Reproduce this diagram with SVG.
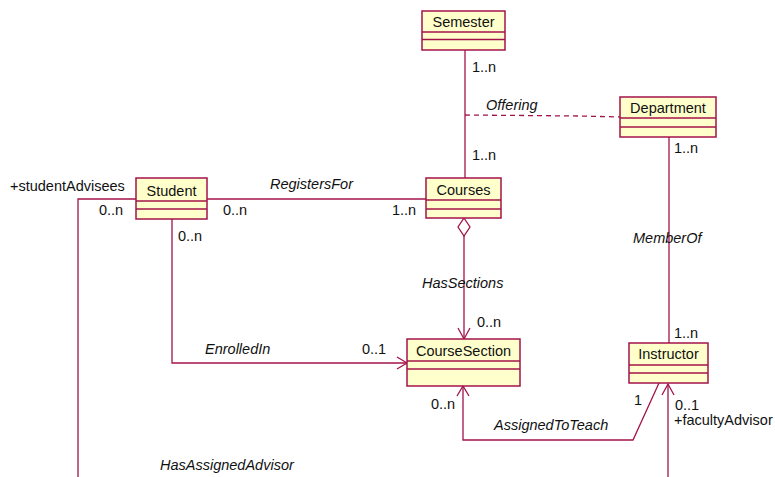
<svg xmlns="http://www.w3.org/2000/svg" width="775" height="477" viewBox="0 0 775 477">
  <style>
    .box { fill: #ffffcc; stroke: #a3134b; stroke-width: 1.5; }
    .div { stroke: #a3134b; stroke-width: 1.5; }
    .ln { fill: none; stroke: #a3134b; stroke-width: 1.3; }
    .dash { fill: none; stroke: #a3134b; stroke-width: 1.3; stroke-dasharray: 5 4; }
    .name { font-family: "Liberation Sans", Arial, sans-serif; font-size: 14.5px; fill: #111; text-anchor: middle; }
    .lbl { font-family: "Liberation Sans", Arial, sans-serif; font-size: 14.5px; fill: #111; }
    .it { font-style: italic; }
  </style>
  <rect width="775" height="477" fill="#ffffff"/>

  <!-- associations -->
  <g id="connectors">
    <!-- Semester - Courses -->
    <line class="ln" x1="465" y1="50" x2="465" y2="178"/>
    <!-- Offering association class link -->
    <polyline class="dash" points="465,115 580,116 620,117"/>
    <!-- Department - Instructor -->
    <line class="ln" x1="669" y1="137" x2="669" y2="343"/>
    <!-- Student - Courses -->
    <line class="ln" x1="207" y1="199" x2="426" y2="199"/>
    <!-- Courses aggregation of CourseSection -->
    <polygon points="464,218 470,227 464,236 458,227" fill="#ffffff" stroke="#a3134b" stroke-width="1.3"/>
    <line class="ln" x1="464" y1="236" x2="464" y2="339"/>
    <polyline class="ln" points="458,328 464,339 470,328"/>
    <!-- Student enrolled in CourseSection -->
    <polyline class="ln" points="172,219 172,363 407,363"/>
    <polyline class="ln" points="397,357 407,363 397,369"/>
    <!-- Instructor assigned to CourseSection -->
    <polyline class="ln" points="659,383 633,440 463,440 463,386"/>
    <polyline class="ln" points="457,396 463,386 469,396"/>
    <!-- Student advisees / faculty advisor -->
    <polyline class="ln" points="136,199 78,199 78,477"/>
    <line class="ln" x1="668" y1="384" x2="668" y2="477"/>
    <polyline class="ln" points="662,395 668,384 674,395"/>
  </g>

  <!-- classes -->
  <g id="semester">
    <rect class="box" x="422" y="11" width="83" height="39"/>
    <line class="div" x1="422" y1="32" x2="505" y2="32"/>
    <line class="div" x1="422" y1="39.5" x2="505" y2="39.5"/>
    <text class="name" x="463.5" y="27">Semester</text>
  </g>
  <g id="department">
    <rect class="box" x="620" y="97" width="96" height="40"/>
    <line class="div" x1="620" y1="118" x2="716" y2="118"/>
    <line class="div" x1="620" y1="127" x2="716" y2="127"/>
    <text class="name" x="668" y="113">Department</text>
  </g>
  <g id="student">
    <rect class="box" x="136" y="178" width="71" height="41"/>
    <line class="div" x1="136" y1="201" x2="207" y2="201"/>
    <line class="div" x1="136" y1="209" x2="207" y2="209"/>
    <text class="name" x="171.5" y="196">Student</text>
  </g>
  <g id="courses">
    <rect class="box" x="426" y="178" width="75" height="40"/>
    <line class="div" x1="426" y1="200" x2="501" y2="200"/>
    <line class="div" x1="426" y1="209" x2="501" y2="209"/>
    <text class="name" x="463.5" y="195">Courses</text>
  </g>
  <g id="coursesection">
    <rect class="box" x="407" y="339" width="113" height="47"/>
    <line class="div" x1="407" y1="361" x2="520" y2="361"/>
    <line class="div" x1="407" y1="369" x2="520" y2="369"/>
    <text class="name" x="463.5" y="356">CourseSection</text>
  </g>
  <g id="instructor">
    <rect class="box" x="629" y="343" width="79" height="40"/>
    <line class="div" x1="629" y1="365" x2="708" y2="365"/>
    <line class="div" x1="629" y1="373" x2="708" y2="373"/>
    <text class="name" x="668.5" y="359">Instructor</text>
  </g>

  <!-- association names, multiplicities and roles -->
  <g id="labels">
    <text class="lbl" x="472" y="72">1..n</text>
    <text class="lbl it" x="486" y="110">Offering</text>
    <text class="lbl" x="472" y="160">1..n</text>
    <text class="lbl" x="674" y="153">1..n</text>
    <text class="lbl it" x="633" y="243">MemberOf</text>
    <text class="lbl" x="674" y="338">1..n</text>
    <text class="lbl" x="10" y="191">+studentAdvisees</text>
    <text class="lbl" x="99" y="215">0..n</text>
    <text class="lbl it" x="270" y="189">RegistersFor</text>
    <text class="lbl" x="223" y="215">0..n</text>
    <text class="lbl" x="392" y="215">1..n</text>
    <text class="lbl" x="178" y="241">0..n</text>
    <text class="lbl it" x="422" y="288">HasSections</text>
    <text class="lbl" x="477" y="327">0..n</text>
    <text class="lbl it" x="205" y="354">EnrolledIn</text>
    <text class="lbl" x="362" y="354">0..1</text>
    <text class="lbl" x="431" y="409">0..n</text>
    <text class="lbl" x="634" y="405">1</text>
    <text class="lbl it" x="494" y="430">AssignedToTeach</text>
    <text class="lbl" x="675" y="410">0..1</text>
    <text class="lbl" x="674" y="425">+facultyAdvisor</text>
    <text class="lbl it" x="160" y="470">HasAssignedAdvisor</text>
  </g>
</svg>
